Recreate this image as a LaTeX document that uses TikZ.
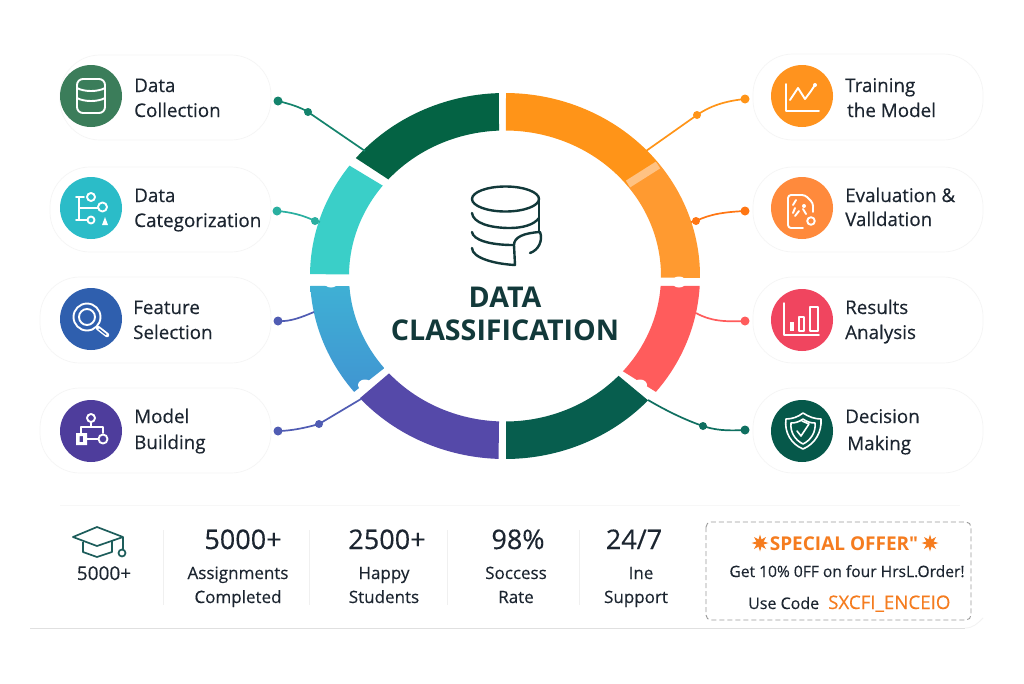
\documentclass[tikz,border=0pt]{standalone}
\usepackage{fontspec}
\setmainfont[FakeBold=0.35]{Open Sans}
\newfontfamily\headfont{Open Sans}
\usetikzlibrary{shapes.geometric,calc}
\definecolor{ink}{HTML}{1C2530}
\definecolor{deep}{HTML}{12393A}
\definecolor{gA}{HTML}{046344}
\definecolor{gB}{HTML}{075E4E}
\definecolor{tl}{HTML}{3ACFC8}
\definecolor{blA}{HTML}{3FB0D4}
\definecolor{blB}{HTML}{4095D2}
\definecolor{pu}{HTML}{5549A9}
\definecolor{rd}{HTML}{FF5C5C}
\definecolor{orA}{HTML}{FF9418}
\definecolor{orB}{HTML}{FF9A30}
\definecolor{offer}{HTML}{F57C1F}
\definecolor{cA}{HTML}{3B7D5A}
\definecolor{cB}{HTML}{2BBCC8}
\definecolor{cC}{HTML}{2F5FAE}
\definecolor{cD}{HTML}{4E3D9C}
\definecolor{cE}{HTML}{FF931E}
\definecolor{cF}{HTML}{FF8A3C}
\definecolor{cG}{HTML}{F0455F}
\definecolor{cH}{HTML}{06584A}
\definecolor{capc}{HTML}{1D5D5B}
\tikzset{
 pill/.style={draw=black!4,fill=white,line width=.7pt,rounded corners=40pt},
 badge/.style={circle,minimum size=62pt,inner sep=0pt},
 lbl/.style={anchor=base west,inner sep=0pt,font=\fontsize{18.8}{18.8}\selectfont,text=ink},
 big/.style={anchor=base,inner sep=0pt,font=\fontsize{27}{27}\selectfont,text=ink},
 smalltxt/.style={anchor=base,inner sep=0pt,font=\fontsize{17}{17}\selectfont,text=ink},
 ttl/.style={anchor=base,inner sep=0pt,font=\headfont\fontsize{28.6}{28.6}\selectfont\bfseries,text=deep},
 dotA/.style={circle,inner sep=0pt,minimum size=9pt},
 dotB/.style={circle,inner sep=0pt,minimum size=8pt},
 wire/.style={line width=1.7pt},
 ico/.style={draw=white,line width=1.9pt,line cap=round,line join=round},
 rulel/.style={draw=black!6,line width=.8pt},
 notch/.style={ellipse,fill=white,inner sep=0pt,minimum width=14pt,minimum height=11pt},
 splat/.style={star,star points=8,star point ratio=2.2,fill=offer,inner sep=0pt,minimum size=17pt},
 capl/.style={draw=capc,line width=1.7pt,line join=round},
}
\newcommand{\ringseg}[5]{%
 \path[#1] ($(505,276)+(#2:195 and 183)$) arc[start angle=#2,end angle=#3,x radius=195,y radius=183]
  -- ($(505,276)+(#4:156 and 145.5)$) arc[start angle=#4,end angle=#5,x radius=156,y radius=145.5] -- cycle;}
\begin{document}
\begin{tikzpicture}[x=1pt,y=-1pt]
\useasboundingbox (0,0) rectangle (1024,683);
\fill[white] (0,0) rectangle (1024,683);
% stats frame
\draw[black!3,line width=.7pt] (60,505) -- (960,505);
\draw[black!12,line width=1pt] (30,628) -- (965,628);
\draw[black!5,line width=.8pt] (965,628) to[out=0,in=225] (983,618);
% pills
\foreach \xa/\xb/\ya/\yb in {60/271/55/140,50/271/167/252,40/271/277/363,40/271/388/473,753/983/54/140,753/983/167/252,753/983/277/363,753/983/388/473}
 \draw[pill] (\xa,\ya) rectangle (\xb,\yb);
% ring
\ringseg{fill=gA}{220.1}{268.2}{267.8}{221.6}
\ringseg{fill=tl}{217.1}{180.6}{180.6}{218.4}
\ringseg{top color=blA,bottom color=blB}{176.9}{140.7}{140.7}{176}
\ringseg{fill=pu}{138.1}{91.9}{92.2}{138}
\ringseg{fill=gB}{89.7}{42.8}{43.3}{89.6}
\ringseg{fill=rd}{3.1}{39.3}{40.9}{3.9}
\ringseg{fill=orA}{270.3}{322}{322}{270.3}
\ringseg{fill=orB}{321.8}{360.6}{360.6}{321.8}
\draw[line width=8pt,color=orB!60!white] (628,184) -- (658,165);
\foreach \n/\x/\y in {na/331/282,nb/679/282,nc/365/385,nd/640/385}
 \node[notch] (\n) at (\x,\y) {};
% connector nodes
\node[dotA,fill=gA!70!tl] (d1) at (278,101) {};
\node[dotB,fill=gA!70!tl] (m1) at (308,112) {};
\coordinate (e1) at (365,151);
\node[dotA,fill=tl!70!gA] (d2) at (277,211) {};
\node[dotB,fill=tl!70!gA] (m2) at (315,221) {};
\coordinate (e2) at (320,222);
\node[dotA,fill=pu!75!blB] (d3) at (278,321) {};
\coordinate (e3) at (314,312);
\node[dotA,fill=pu!75!blB] (d4) at (278,431) {};
\node[dotB,fill=pu!75!blB] (m4) at (319,424) {};
\coordinate (e4) at (361,399);
\node[dotA,fill=orA] (d5) at (745,99) {};
\node[dotB,fill=orA] (m5) at (697,115) {};
\coordinate (e5) at (646,151);
\node[dotA,fill=orA!80!red] (d6) at (745,211) {};
\node[dotB,fill=orA!80!red] (m6) at (696,221) {};
\coordinate (e6) at (691,222);
\node[dotA,fill=rd] (d7) at (745,321) {};
\coordinate (e7) at (696,313);
\node[dotA,fill=gB!85!tl] (d8) at (745,430) {};
\node[dotB,fill=gB!85!tl] (m8) at (703,426) {};
\coordinate (e8) at (648,400);
\draw[wire,gA!70!tl] (d1.center) .. controls (290,104) and (300,107) .. (m1.center) -- (e1);
\draw[wire,tl!70!gA] (d2.center) .. controls (290,212) and (303,215) .. (m2.center) -- (e2);
\draw[wire,pu!75!blB] (d3.center) .. controls (290,322) and (302,317) .. (e3);
\draw[wire,pu!75!blB] (d4.center) .. controls (290,431) and (305,428) .. (m4.center) -- (e4);
\draw[wire,orA] (d5.center) .. controls (725,101) and (710,106) .. (m5.center) -- (e5);
\draw[wire,orA!80!red] (d6.center) .. controls (725,212) and (710,214) .. (m6.center) -- (e6);
\draw[wire,rd] (d7.center) .. controls (725,322) and (710,321) .. (e7);
\draw[wire,gB!85!tl] (d8.center) .. controls (725,431) and (715,430) .. (m8.center) .. controls (685,420) and (665,410) .. (e8);
% central icon
\begin{scope}[draw=deep,line width=2.4pt,line cap=round,line join=round]
\draw (505.5,199) ellipse[x radius=33.5,y radius=12.5];
\draw (539,199) -- (539,232);
\draw (472,213) .. controls (473,223) and (490,228) .. (510,228) .. controls (522,228) and (534,225) .. (539,218);
\draw (472,232) .. controls (473,240) and (490,245) .. (513,245);
\draw (472,248) .. controls (472,258) and (495,264) .. (515,265);
\draw (515,265) -- (514,245) .. controls (514,237) and (524,233) .. (540,232) .. controls (543,240) and (539,250) .. (530,253);
\end{scope}
\node[ttl] (t1) at (505,307) {DATA};
\node[ttl] (t2) at (505,340) {CLASSIFICATION};
% badges
\node[badge,fill=cA] (b1) at (91,96) {};
\node[badge,fill=cB] (b2) at (91,208) {};
\node[badge,fill=cC] (b3) at (91,319) {};
\node[badge,fill=cD] (b4) at (91,431) {};
\node[badge,fill=cE] (b5) at (802,96) {};
\node[badge,fill=cF] (b6) at (802,208) {};
\node[badge,fill=cG] (b7) at (802,320) {};
\node[badge,fill=cH] (b8) at (802,431) {};
% icon 1 database
\draw[ico,rounded corners=6pt] (77,79) rectangle (105,113);
\draw[ico] (77,88) .. controls (84,92) and (98,92) .. (105,88);
\draw[ico] (77,98) .. controls (84,102) and (98,102) .. (105,98);
% icon 2 tree
\draw[ico] (76,197) -- (84,197) (79,197) -- (79,220) (76,220) -- (87,220) (79,208) -- (98,208);
\draw[ico] (91,197) circle[radius=4] (102.5,207) circle[radius=4.5] (91,220) circle[radius=3.5];
\fill[white] (102,225) -- (105,217) -- (108,225) -- cycle;
% icon 3 lens
\draw[ico] (87,317) circle[radius=13.5] (87,317) circle[radius=8];
\draw[white,line width=4.5pt,line cap=round] (98,328) -- (107,335);
\draw[cC,line width=1.2pt,line cap=round] (99,329) -- (106,334.5);
% icon 4 model
\draw[ico] (91,418) circle[radius=4];
\draw[ico] (91,422) -- (91,427) (81,433) -- (81,427) -- (103,427) -- (103,433) (87,439) -- (98,439);
\draw[ico] (103,439) circle[radius=4.5];
\fill[white,even odd rule] (76,433) rectangle (87,445) (79.5,436) rectangle (83,442);
% icon 5 chart
\draw[ico] (786,84) -- (786,111) -- (819,111);
\draw[ico] (790,100) -- (798,88) -- (805,99) -- (811,91) -- (815,85);
\fill[white] (815,85) circle[radius=2];
% icon 6 report
\draw[ico,rounded corners=3pt] (803,228) -- (788,228) -- (788,195) -- (805,195) -- (813,203) -- (813,212);
\draw[ico] (796,200) -- (793,205) (795,216) -- (799,211) (793,213) -- (795,208) (806,214) -- (803,209);
\fill[white] (804,206) circle[radius=2];
\draw[ico] (811,221) circle[radius=3.8];
% icon 7 bars
\draw[ico,line width=1.5pt] (784,303) -- (784,335) -- (819,335);
\fill[white] (790,322) rectangle (793.5,331);
\draw[ico,line width=1.5pt] (799,317) rectangle (804,331) (810,307) rectangle (818,331);
% icon 8 shield
\draw[ico,line width=1.6pt] (803,413) .. controls (809,417) and (815,419) .. (821,419) .. controls (822,432) and (815,444) .. (803,449) .. controls (791,444) and (784,432) .. (786,419) .. controls (792,419) and (798,417) .. (803,413) -- cycle;
\draw[ico,line width=1.6pt] (803,419) .. controls (807,422) and (811,423) .. (815,423) .. controls (816,432) and (811,440) .. (803,444) .. controls (795,440) and (790,432) .. (791,423) .. controls (795,423) and (799,422) .. (803,419) -- cycle;
\draw[ico,line width=1.6pt] (797,431) -- (801,436) -- (809,424) (802,421) -- (809,424);
% labels
\node[lbl] (l1a) at (134,92) {Data};
\node[lbl] (l1b) at (134,117) {Collection};
\node[lbl] (l2a) at (134,202) {Data};
\node[lbl] (l2b) at (134,227) {Categorization};
\node[lbl] (l3a) at (133,314) {Feature};
\node[lbl] (l3b) at (133,339) {Selection};
\node[lbl] (l4a) at (134,423) {Model};
\node[lbl] (l4b) at (134,449) {Building};
\node[lbl] (l5a) at (845,92) {Training};
\node[lbl] (l5b) at (847,117) {the Model};
\node[lbl] (l6a) at (845,202) {Evaluation \&};
\node[lbl] (l6b) at (845,226) {Valldation};
\node[lbl] (l7a) at (845,314) {Results};
\node[lbl] (l7b) at (845,339) {Analysis};
\node[lbl] (l8a) at (845,423) {Decision};
\node[lbl] (l8b) at (847,450) {Making};
% stats
\foreach \x in {163,309,447,579} \draw[rulel] (\x,530) -- (\x,605);
\draw[capl] (73,537) -- (97,527) -- (123,537) -- (97,546) -- cycle;
\draw[capl] (83,542) -- (83,552) -- (97,557) -- (112,552) -- (112,541);
\draw[capl] (123,537) -- (123,550) (122,553) circle[radius=3.5];
\node[smalltxt,font=\fontsize{19}{19}\selectfont] (s0) at (104,580) {5000+};
\node[big] (s1) at (243,549) {5000+};
\node[smalltxt] (s1a) at (238,579) {Assignments};
\node[smalltxt] (s1b) at (238,603) {Completed};
\node[big] (s2) at (387,549) {2500+};
\node[smalltxt] (s2a) at (384,579) {Happy};
\node[smalltxt] (s2b) at (384,603) {Students};
\node[big] (s3) at (518,549) {98\%};
\node[smalltxt] (s3a) at (516,579) {Soccess};
\node[smalltxt] (s3b) at (516,603) {Rate};
\node[big] (s4) at (634,549) {24/7};
\node[smalltxt] (s4a) at (641,579) {Ine};
\node[smalltxt] (s4b) at (636,603) {Support};
% offer
\draw[black!40,line width=.9pt,dash pattern=on 5pt off 3pt,rounded corners=5pt] (706,522) rectangle (971,620);
\node[splat] (o1) at (760,543) {};
\node[splat] (o2) at (930,543) {};
\node[anchor=base,inner sep=0pt,font=\headfont\fontsize{19}{19}\selectfont\bfseries,text=offer] (o3) at (844,550) {SPECIAL OFFER"};
\node[anchor=base,inner sep=0pt,font=\fontsize{15.6}{15.6}\selectfont,text=ink] (o4) at (847,577) {Get 10\% 0FF on four HrsL.Order!};
\node[anchor=base west,inner sep=0pt,font=\fontsize{16}{16}\selectfont,text=ink] (o5) at (748,609) {Use Code};
\node[anchor=base west,inner sep=0pt,font=\fontsize{18.7}{18.7}\selectfont,text=offer] (o6) at (828,609) {SXCFI\_ENCEIO};
\end{tikzpicture}
\end{document}
